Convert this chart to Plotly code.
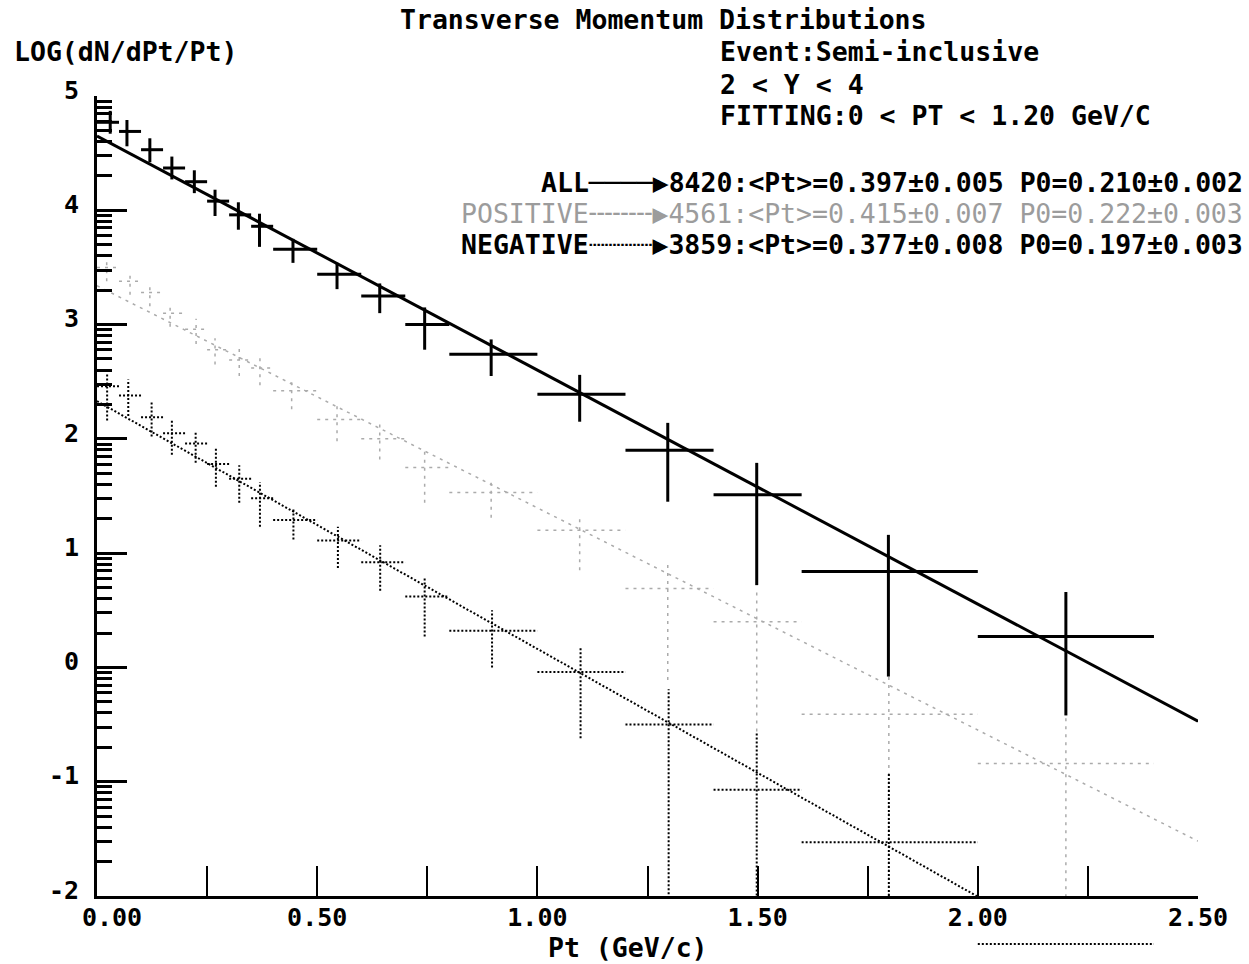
import numpy as np
import plotly.graph_objects as go

# ---------------------------------------------------------------- data
# Pt bins (GeV/c) shared by the three samples
bin_lo = [0.00, 0.05, 0.10, 0.15, 0.20, 0.25, 0.30, 0.35, 0.40, 0.50, 0.60,
          0.70, 0.80, 1.00, 1.20, 1.40, 1.60, 2.00]
bin_hi = [0.05, 0.10, 0.15, 0.20, 0.25, 0.30, 0.35, 0.40, 0.50, 0.60, 0.70,
          0.80, 1.00, 1.20, 1.40, 1.60, 2.00, 2.40]

# ALL charged
pt_all = [0.030, 0.068, 0.120, 0.170, 0.221, 0.268, 0.321, 0.369, 0.445, 0.545,
          0.642, 0.744, 0.895, 1.096, 1.296, 1.498, 1.797, 2.200]
log_all = [4.77, 4.69, 4.53, 4.37, 4.25, 4.08, 3.96, 3.86, 3.66, 3.44,
           3.25, 3.00, 2.74, 2.39, 1.90, 1.51, 0.84, 0.27]
err_up_all = [0.10, 0.10, 0.10, 0.10, 0.10, 0.10, 0.11, 0.11, 0.09, 0.10,
              0.11, 0.15, 0.13, 0.17, 0.24, 0.28, 0.32, 0.39]
err_dn_all = [0.10, 0.13, 0.11, 0.10, 0.10, 0.13, 0.13, 0.18, 0.12, 0.13,
              0.15, 0.22, 0.19, 0.24, 0.45, 0.79, 0.92, 0.69]

# POSITIVE
pt_pos = [0.022, 0.075, 0.120, 0.166, 0.225, 0.268, 0.323, 0.370, 0.442, 0.545,
          0.642, 0.744, 0.895, 1.096, 1.296, 1.498, 1.798, 2.200]
log_pos = [3.50, 3.38, 3.28, 3.10, 2.96, 2.78, 2.69, 2.62, 2.42, 2.17,
           2.00, 1.75, 1.53, 1.20, 0.69, 0.40, -0.41, -0.84]
err_up_pos = [0.09, 0.09, 0.09, 0.09, 0.09, 0.10, 0.10, 0.10, 0.09, 0.12,
              0.14, 0.15, 0.11, 0.10, 0.21, 0.26, 0.33, 0.41]
err_dn_pos = [0.12, 0.12, 0.12, 0.12, 0.13, 0.13, 0.14, 0.15, 0.16, 0.19,
              0.18, 0.31, 0.22, 0.35, 0.80, 0.96, 2.50, 2.50]

# NEGATIVE
pt_neg = [0.023, 0.071, 0.124, 0.170, 0.224, 0.270, 0.323, 0.370, 0.446, 0.547,
          0.643, 0.744, 0.897, 1.098, 1.298, 1.498, 1.798, 2.200]
log_neg = [2.46, 2.38, 2.19, 2.05, 1.96, 1.78, 1.65, 1.48, 1.29, 1.11,
           0.92, 0.62, 0.32, -0.04, -0.50, -1.07, -1.53, -2.42]
err_up_neg = [0.12, 0.14, 0.14, 0.11, 0.11, 0.14, 0.12, 0.14, 0.11, 0.12,
              0.15, 0.16, 0.18, 0.21, 0.31, 0.50, 0.60, 0.00]
err_dn_neg = [0.30, 0.18, 0.17, 0.19, 0.17, 0.20, 0.21, 0.25, 0.17, 0.24,
              0.25, 0.35, 0.32, 0.58, 2.50, 2.50, 2.50, 0.00]

# exponential fits, drawn as straight lines in log scale (end points)
fit_pt = [0.0, 2.5]
fit_all = [4.65, -0.47]
fit_pos = [3.34, -1.52]
fit_neg = [2.33, -3.09]

# axis ticks
x_tickvals = [0.0, 0.25, 0.5, 0.75, 1.0, 1.25, 1.5, 1.75, 2.0, 2.25, 2.5]
x_ticktext = ["\u00a0\u00a00.00", "", "0.50", "", "1.00", "", "1.50", "", "2.00", "", "2.50"]
y_tickvals = [-2, -1, 0, 1, 2, 3, 4, 5]
y_ticktext = ["-2", "-1", "0", "1", "2", "3", "4", "5"]

legend_rows = [
    ("ALL", "\u2500\u2500\u2500\u2500", "8420", "0.397\u00b10.005", "0.210\u00b10.002"),
    ("POSITIVE", "\u254c\u254c\u254c\u254c", "4561", "0.415\u00b10.007", "0.222\u00b10.003"),
    ("NEGATIVE", "\u2508\u2508\u2508\u2508", "3859", "0.377\u00b10.008", "0.197\u00b10.003"),
]

# ---------------------------------------------------------------- layout helpers
W, H = 1249, 964
ML, MR, MT, MB = 97, 51, 96, 10
Y_MIN, Y_MAX = -2.0, 5.0
AXIS_BOTTOM_PX = 896
FONT = "DejaVu Sans Mono"


def fx(p):
    return (p - ML) / (W - ML - MR)


def fy(p):
    return (H - MB - p) / (H - MT - MB)


dom0 = fy(AXIS_BOTTOM_PX)
# auxiliary y axis covering the whole figure height with the same scale,
# so that points falling below the frame are still drawn
y2_range = [Y_MAX - (Y_MAX - Y_MIN) / (1 - dom0), Y_MAX]


def crosses(pt, val, up, dn, keep):
    xs, ys = [], []
    for i in range(len(pt)):
        if not keep(val[i]):
            continue
        xs += [bin_lo[i], bin_hi[i], None]
        ys += [val[i], val[i], None]
        if up[i] or dn[i]:
            xs += [pt[i], pt[i], None]
            ys += [val[i] - dn[i], val[i] + up[i], None]
    return xs, ys


inside = lambda v: v >= Y_MIN
below = lambda v: v < Y_MIN

styles = {
    "all": dict(color="black", width=3),
    "pos": dict(color="#ababab", width=1.5, dash="3px,5px"),
    "neg": dict(color="black", width=2, dash="2px,2px"),
}

fig = go.Figure()

series = [
    ("all", pt_all, log_all, err_up_all, err_dn_all, fit_all),
    ("pos", pt_pos, log_pos, err_up_pos, err_dn_pos, fit_pos),
    ("neg", pt_neg, log_neg, err_up_neg, err_dn_neg, fit_neg),
]
for key, pt, val, up, dn, fit in series:
    fig.add_trace(go.Scatter(x=fit_pt, y=fit, mode="lines", line=styles[key],
                             showlegend=False, hoverinfo="skip"))
    xs, ys = crosses(pt, val, up, dn, inside)
    fig.add_trace(go.Scatter(x=xs, y=ys, mode="lines", line=styles[key],
                             showlegend=False, hoverinfo="skip"))
    xs, ys = crosses(pt, val, up, dn, below)
    if xs:
        fig.add_trace(go.Scatter(x=xs, y=ys, mode="lines", line=styles[key],
                                 xaxis="x", yaxis="y2",
                                 showlegend=False, hoverinfo="skip"))

tick_font = dict(family=FONT, size=25, color="black", weight="bold")

fig.update_layout(
    width=W, height=H,
    margin=dict(l=ML, r=MR, t=MT, b=MB, autoexpand=False),
    paper_bgcolor="white",
    plot_bgcolor="rgba(0,0,0,0)",
    xaxis=dict(
        range=[0, 2.5], domain=[0, 1], anchor="y",
        showline=True, linewidth=3, linecolor="black", mirror=False,
        showgrid=False, zeroline=False,
        tickmode="array", tickvals=x_tickvals, ticktext=x_ticktext,
        ticks="inside", ticklen=30, tickwidth=2, tickcolor="black",
        tickfont=tick_font, ticklabelstandoff=-3, automargin=False,
    ),
    yaxis=dict(
        range=[Y_MIN, Y_MAX], domain=[dom0, 1], anchor="x",
        showline=True, linewidth=3, linecolor="black", mirror=False,
        showgrid=False, zeroline=False,
        tickmode="array", tickvals=y_tickvals, ticktext=y_ticktext,
        ticks="inside", ticklen=30, tickwidth=3, tickcolor="black",
        tickfont=tick_font, ticklabelstandoff=10, ticklabelshift=-6,
        automargin=False,
        minor=dict(
            tickmode="array",
            tickvals=[d + np.log10(k) for d in range(-2, 5) for k in range(2, 10)],
            ticks="inside", ticklen=15, tickwidth=3, tickcolor="black",
            showgrid=False,
        ),
    ),
    yaxis2=dict(
        range=y2_range, domain=[0, 1], anchor="x", visible=False,
        showgrid=False, zeroline=False,
    ),
)

text_font = dict(family=FONT, size=26.5, color="black", weight="bold")


def label(text, x, y, xanchor="left", font=None):
    fig.add_annotation(text=text, xref="paper", yref="paper",
                       x=fx(x), y=fy(y), xanchor=xanchor, yanchor="middle",
                       showarrow=False, font=font or text_font)


label("Transverse Momentum Distributions", 398, 19)
label("LOG(dN/dPt/Pt)", 12, 52)
label("Event:Semi-inclusive", 718, 52)
label("2 &lt; Y &lt; 4", 718, 84)
label("FITTING:0 &lt; PT &lt; 1.20 GeV/C", 718, 116)
label("Pt (GeV/c)", 546, 947)

row_y = [182, 213, 245]
for (name, sample, n, mean, p0), yy in zip(legend_rows, row_y):
    txt = f"{name}{sample}\u25b6{n}:&lt;Pt&gt;={mean} P0={p0}"
    if name == "POSITIVE":
        f = dict(family=FONT, size=26.5, color="#9c9c9c", weight="normal")
    else:
        f = text_font
    label(txt, 1245, yy, xanchor="right", font=f)

fig.write_html("out.html")
